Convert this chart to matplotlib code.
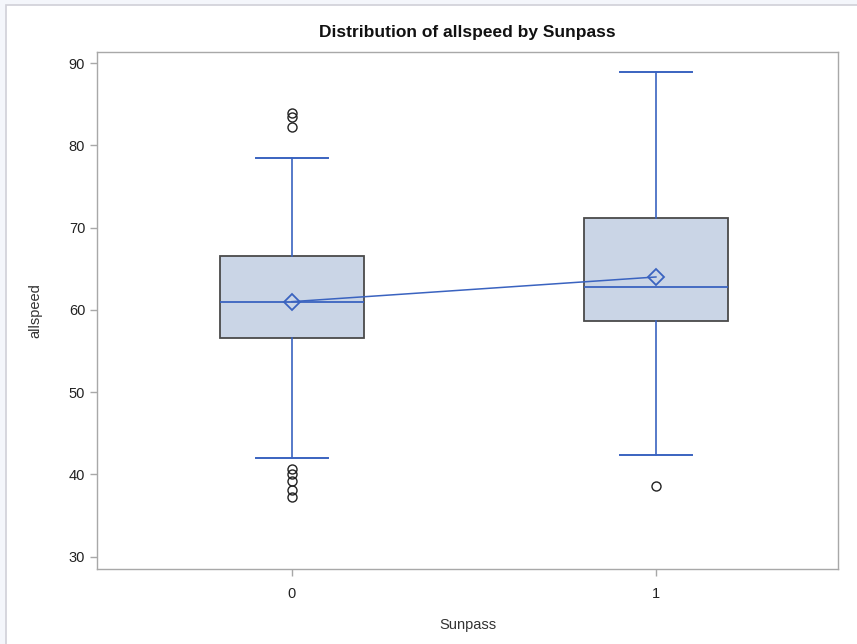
import matplotlib.pyplot as plt
from matplotlib.patches import Rectangle

plt.rcParams['font.family'] = ['Liberation Sans', 'DejaVu Sans']

# summary values
groups = ['0', '1']
q1 = [56.6, 58.7]
medians = [61.0, 62.8]
q3 = [66.5, 71.2]
whis_lo = [42.0, 42.4]
whis_hi = [78.5, 88.9]
means = [61.0, 64.0]
fliers = [
    [83.9, 83.4, 82.2, 40.7, 40.1, 39.2, 38.1, 37.3],
    [38.6],
]

blue = '#3a63c0'

fig = plt.figure(figsize=(8.57, 6.44), dpi=100)
fig.patch.set_facecolor('#f4f6fb')
# white panel with thin gray border
fig.patches.append(Rectangle((6/857, -0.01), 1.0, 1 - 5/644 + 0.01,
                             transform=fig.transFigure, facecolor='white',
                             edgecolor='#d0d0d8', linewidth=1.2, zorder=-10))

ax = fig.add_axes([97/857, 1 - 569/644, 741/857, 517/644])
ax.set_zorder(5)

stats = []
for i in range(len(groups)):
    stats.append(dict(q1=q1[i], med=medians[i], q3=q3[i],
                      whislo=whis_lo[i], whishi=whis_hi[i],
                      mean=means[i], fliers=fliers[i]))

pos = list(range(len(groups)))
ax.bxp(stats, positions=pos, widths=0.396, patch_artist=True, showmeans=False,
       boxprops=dict(facecolor='#cad5e6', edgecolor='#4a4a4a', linewidth=1.3),
       medianprops=dict(color=blue, linewidth=1.3),
       whiskerprops=dict(color=blue, linewidth=1.2),
       capprops=dict(color=blue, linewidth=1.4),
       capwidths=0.198,
       flierprops=dict(marker='o', markerfacecolor='none', markeredgecolor='#222222',
                       markersize=6.5, markeredgewidth=1.0))

ax.plot(pos, means, color=blue, linewidth=1.1, marker='D', markersize=8,
        markerfacecolor='none', markeredgecolor=blue, markeredgewidth=1.3, zorder=5)

ax.set_xlim(-0.535, 1.5)
ax.set_ylim(28.5, 91.35)
ax.set_xticks(pos)
ax.set_xticklabels(groups)
ax.set_yticks([30, 40, 50, 60, 70, 80, 90])

for s in ax.spines.values():
    s.set_color('#a8a8a8')
    s.set_linewidth(1.0)
ax.tick_params(colors='#a8a8a8', labelcolor='#222222', labelsize=10.5,
               length=5, width=1.0)
ax.tick_params(axis='x', pad=8)

ax.set_title('Distribution of allspeed by Sunpass', fontsize=12.5,
             fontweight='bold', color='#111111', pad=11)
ax.set_xlabel('Sunpass', fontsize=10.5, color='#333333', labelpad=12)
ax.set_ylabel('allspeed', fontsize=10.5, color='#333333', labelpad=19)

fig.savefig('out.png', dpi=100, facecolor=fig.get_facecolor())
